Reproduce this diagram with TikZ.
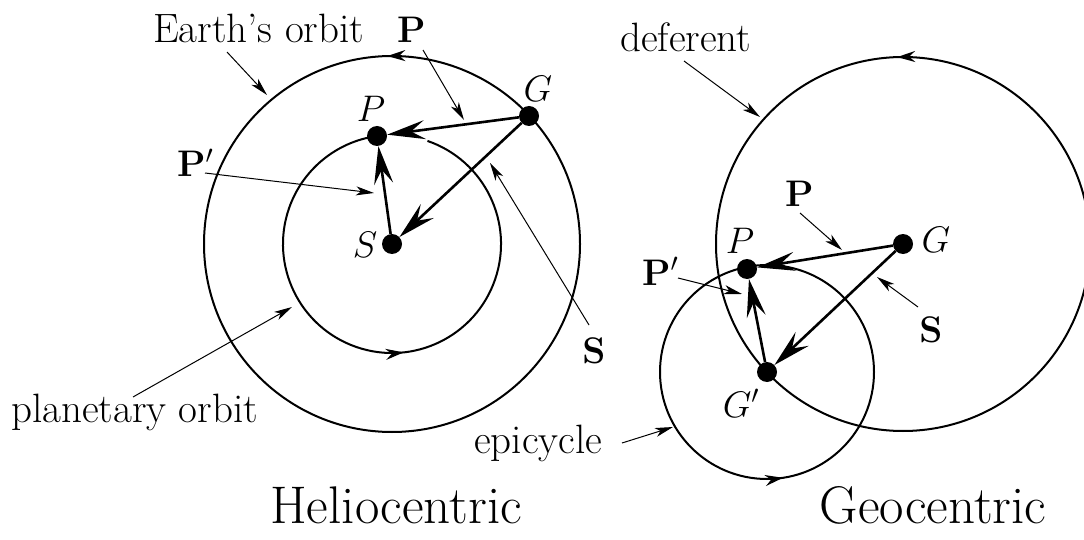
\RequirePackage{fix-cm}
\documentclass[tikz,border=0pt]{standalone}
\usetikzlibrary{arrows.meta,decorations.markings}

\begin{document}
\begin{tikzpicture}[
    x=1pt, y=-1pt,
    every node/.style={inner sep=0pt},
    lbl/.style={font=\fontsize{41}{45}\selectfont},
    mlbl/.style={font=\fontsize{37}{41}\selectfont},
    title/.style={font=\fontsize{53}{58}\selectfont},
    dot/.style={circle, fill, minimum size=20pt},
    orbit/.style={line width=2pt},
    flow/.style={postaction={decorate}, decoration={markings, mark=at position #1 with {\arrowreversed{Stealth[length=18pt, width=11pt, inset=6pt]}}}},
    vec/.style={line width=2.6pt, -{Stealth[length=38pt, width=19pt, inset=14pt]}},
    leader/.style={line width=1pt, -{Stealth[length=18pt, width=9pt, inset=5pt]}}
  ]
    \useasboundingbox (0,0) rectangle (1084,540);

    % Heliocentric: Sun, planet, Earth
    \node[dot] (S) at (392,244) {};
    \node[dot] (P) at (377,136) {};
    \node[dot] (G) at (529,116) {};

    \draw[orbit, flow=0.746] (S) circle [radius=188];
    \draw[orbit, flow=0.465] (S) ++(-71:109) arc [start angle=-71, end angle=262, radius=109];

    \draw[vec] (G) -- (P);
    \draw[vec] (G) -- (S);
    \draw[vec] (S) -- (P);

    \node[mlbl, anchor=base] (Plbl) at (371,122) {$P$};
    \node[mlbl, anchor=base] (Glbl) at (538,102) {$G$};
    \node[mlbl, anchor=base] (Slbl) at (365,258) {$S$};

    \node[lbl, anchor=base west] (earth) at (153,43) {Earth's orbit};
    \node[mlbl, anchor=base west] (vecP) at (397,43) {$\mathbf{P}$};
    \node[mlbl, anchor=base west] (vecPp) at (177,177) {$\mathbf{P}'$};
    \node[mlbl, anchor=base] (vecS) at (594,363) {$\mathbf{S}$};
    \node[lbl, anchor=base west] (planet) at (11,422) {planetary orbit};

    \coordinate (earth-a) at (227,52);  \coordinate (earth-b) at (267,95);
    \coordinate (vecP-a) at (423,50);   \coordinate (vecP-b) at (464,120);
    \coordinate (vecPp-a) at (205,173); \coordinate (vecPp-b) at (374,193);
    \coordinate (vecS-a) at (589,325);  \coordinate (vecS-b) at (490,163);
    \coordinate (planet-a) at (133,397); \coordinate (planet-b) at (292,307);

    \draw[leader] (earth-a) -- (earth-b);
    \draw[leader] (vecP-a) -- (vecP-b);
    \draw[leader] (vecPp-a) -- (vecPp-b);
    \draw[leader] (vecS-a) -- (vecS-b);
    \draw[leader] (planet-a) -- (planet-b);

    \node[title, anchor=base] (helio) at (396,523) {Heliocentric};

    % Geocentric: Earth, planet, epicycle centre
    \node[dot] (G2) at (903,244) {};
    \node[dot] (P2) at (747,269) {};
    \node[dot] (G2p) at (767,372) {};

    \draw[orbit, flow=0.745] (G2) circle [radius=187];
    \draw[orbit, flow=0.226] (G2p) circle [radius=107];

    \draw[vec] (G2) -- (P2);
    \draw[vec] (G2) -- (G2p);
    \draw[vec] (G2p) -- (P2);

    \node[mlbl, anchor=base] (P2lbl) at (740,253) {$P$};
    \node[mlbl, anchor=base] (G2lbl) at (936,252) {$G$};
    \node[mlbl, anchor=base] (G2plbl) at (741,417) {$G'$};

    \node[lbl, anchor=base west] (defer) at (620,52) {deferent};
    \node[mlbl, anchor=base west] (vecP2) at (785,207) {$\mathbf{P}$};
    \node[mlbl, anchor=base west] (vecPp2) at (642,285) {$\mathbf{P}'$};
    \node[mlbl, anchor=base] (vecS2) at (931,342) {$\mathbf{S}$};
    \node[lbl, anchor=base west] (epi) at (474,453) {epicycle};

    \coordinate (defer-a) at (684,61);   \coordinate (defer-b) at (760,117);
    \coordinate (vecP2-a) at (800,213);  \coordinate (vecP2-b) at (842,250);
    \coordinate (vecPp2-a) at (678,278); \coordinate (vecPp2-b) at (742,294);
    \coordinate (vecS2-a) at (918,307);  \coordinate (vecS2-b) at (877,277);
    \coordinate (epi-a) at (622,443);    \coordinate (epi-b) at (673,427);

    \draw[leader] (defer-a) -- (defer-b);
    \draw[leader] (vecP2-a) -- (vecP2-b);
    \draw[leader] (vecPp2-a) -- (vecPp2-b);
    \draw[leader] (vecS2-a) -- (vecS2-b);
    \draw[leader] (epi-a) -- (epi-b);

    \node[title, anchor=base] (geo) at (933,523) {Geocentric};
\end{tikzpicture}
\end{document}
